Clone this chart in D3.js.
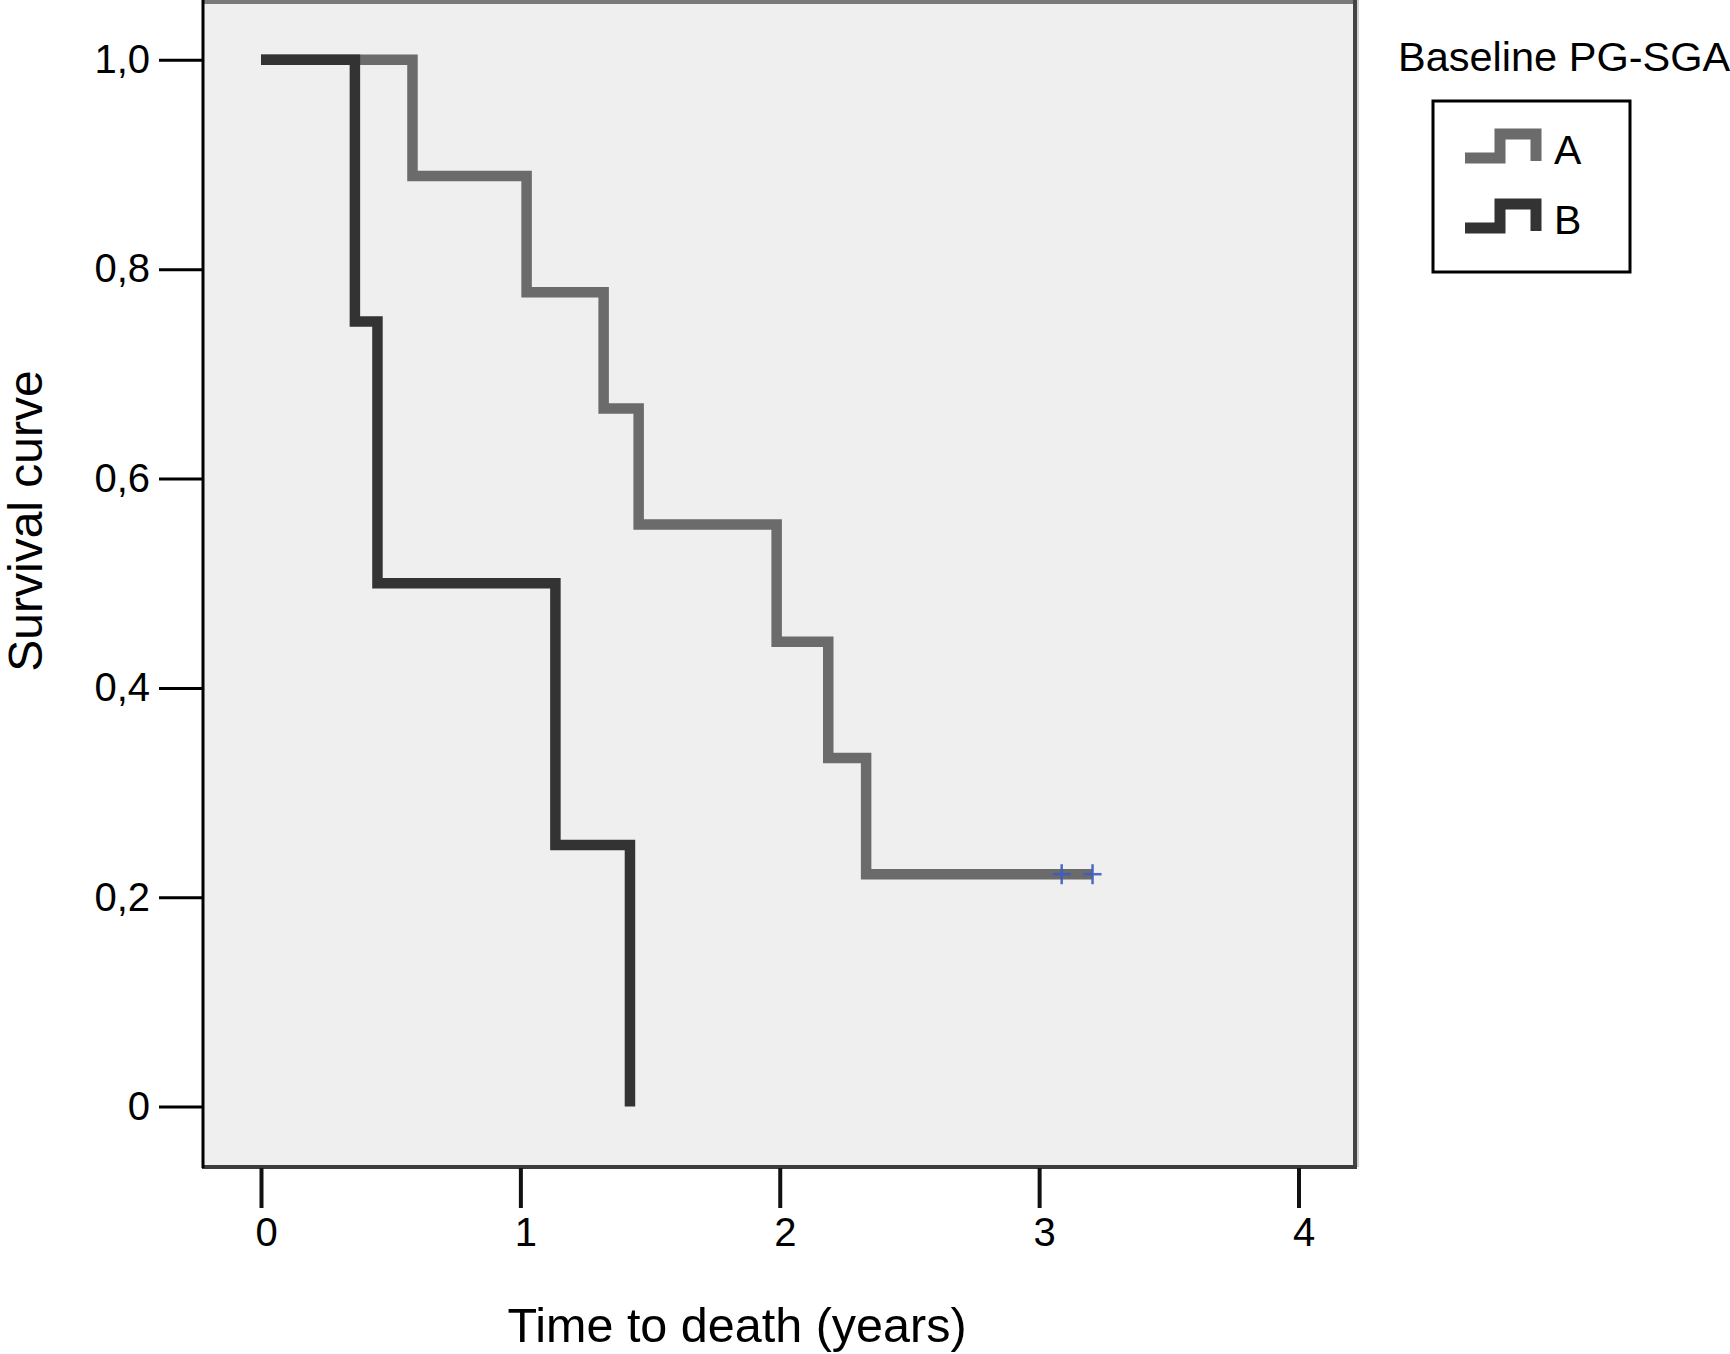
<!DOCTYPE html>
<html>
<head>
<meta charset="utf-8">
<script src="https://cdn.jsdelivr.net/npm/d3@7"></script>
<style>
  html, body { margin: 0; padding: 0; background: #ffffff; }
  svg { display: block; font-family: "Liberation Sans", Arial, Helvetica, sans-serif; }
</style>
</head>
<body>
<svg id="chart" width="1730" height="1354"></svg>
<script>
// ---- data ----
const groups = ["A", "B"];
const timesA = [0, 0.584, 1.024, 1.321, 1.456, 1.988, 2.187, 2.333, 3.206];
const survA  = [1, 0.889, 0.778, 0.667, 0.556, 0.444, 0.333, 0.222, 0.222];
const censorTimesA = [3.087, 3.206];
const censorSurvA  = [0.222, 0.222];
const timesB = [0, 0.362, 0.449, 1.135, 1.4225];
const survB  = [1, 0.75, 0.5, 0.25, 0];
const xTicks = [0, 1, 2, 3, 4];
const yTicks = [0, 0.2, 0.4, 0.6, 0.8, 1.0];
const yTickLabels = ["0", "0,2", "0,4", "0,6", "0,8", "1,0"];
const xTitle = "Time to death (years)";
const yTitle = "Survival curve";
const legendTitle = "Baseline PG-SGA";
const colors = { A: "#6b6b6b", B: "#333333" };

const svg = d3.select("#chart");

// plot frame
const frame = { left: 203, right: 1356, top: 2, bottom: 1167 };
const x = d3.scaleLinear().domain([0, 4]).range([261, 1298.5]);
const y = d3.scaleLinear().domain([0, 1]).range([1106.6, 59.8]);

svg.append("rect")
  .attr("x", frame.left).attr("y", frame.top)
  .attr("width", frame.right - frame.left).attr("height", frame.bottom - frame.top)
  .attr("fill", "#efefef");

// frame borders
svg.append("line").attr("x1", frame.left).attr("x2", frame.right).attr("y1", 2).attr("y2", 2)
  .attr("stroke", "#7a7a7a").attr("stroke-width", 4);
svg.append("line").attr("x1", frame.right).attr("x2", frame.right).attr("y1", 0).attr("y2", frame.bottom)
  .attr("stroke", "#d0d0d0").attr("stroke-width", 6);
svg.append("line").attr("x1", frame.right - 1).attr("x2", frame.right - 1).attr("y1", 0).attr("y2", frame.bottom)
  .attr("stroke", "#444").attr("stroke-width", 4);
svg.append("line").attr("x1", frame.left - 1).attr("x2", frame.right + 1).attr("y1", frame.bottom).attr("y2", frame.bottom)
  .attr("stroke", "#3c3c3c").attr("stroke-width", 4);
svg.append("line").attr("x1", frame.left).attr("x2", frame.left).attr("y1", 0).attr("y2", frame.bottom + 1)
  .attr("stroke", "#000").attr("stroke-width", 3);

// axes
const yAxis = d3.axisLeft(y).tickValues(yTicks)
  .tickFormat((d, i) => yTickLabels[i]).tickSize(43).tickPadding(9);
const gy = svg.append("g").attr("transform", `translate(${frame.left - 1},0)`).call(yAxis);
gy.select(".domain").remove();
gy.selectAll(".tick line").attr("stroke", "#000").attr("stroke-width", 3);
gy.selectAll(".tick text").attr("font-size", 40).attr("fill", "#000")
  .attr("font-family", "'Liberation Sans', Arial, Helvetica, sans-serif");

const xAxis = d3.axisBottom(x).tickValues(xTicks).tickFormat(d3.format("d")).tickSize(40).tickPadding(10);
const gx = svg.append("g").attr("transform", `translate(0,${frame.bottom + 1})`).call(xAxis);
gx.select(".domain").remove();
gx.selectAll(".tick line").attr("stroke", "#111").attr("stroke-width", 4);
gx.selectAll(".tick text").attr("font-size", 40).attr("fill", "#000").attr("dx", 5)
  .attr("font-family", "'Liberation Sans', Arial, Helvetica, sans-serif");

// axis titles
svg.append("text").attr("x", 737).attr("y", 1342).attr("text-anchor", "middle")
  .attr("font-size", 48.5).attr("fill", "#000").text(xTitle);
svg.append("text").attr("transform", "translate(42,521) rotate(-90)").attr("text-anchor", "middle")
  .attr("font-size", 48).attr("fill", "#000").text(yTitle);

// survival curves
const line = d3.line().x(d => x(d[0])).y(d => y(d[1])).curve(d3.curveStepAfter);
const dataA = timesA.map((t, i) => [t, survA[i]]);
const dataB = timesB.map((t, i) => [t, survB[i]]);

svg.append("path").datum(dataA).attr("d", line)
  .attr("fill", "none").attr("stroke", colors.A).attr("stroke-width", 10.5)
  .attr("stroke-linejoin", "miter").attr("stroke-linecap", "butt");
svg.append("path").datum(dataB).attr("d", line)
  .attr("fill", "none").attr("stroke", colors.B).attr("stroke-width", 10.5)
  .attr("stroke-linejoin", "miter").attr("stroke-linecap", "butt");

// censor marks
const censor = svg.append("g").attr("stroke", "#3d5cc2").attr("stroke-width", 2.5).attr("opacity", 0.9);
censorTimesA.forEach((t, i) => {
  const cx = x(t), cy = y(censorSurvA[i]);
  censor.append("line").attr("x1", cx).attr("x2", cx).attr("y1", cy - 10).attr("y2", cy + 10);
  censor.append("line").attr("x1", cx - 9).attr("x2", cx + 9).attr("y1", cy).attr("y2", cy);
});

// legend
svg.append("text").attr("x", 1398).attr("y", 71).attr("font-size", 41.5).attr("fill", "#000").text(legendTitle);
svg.append("rect").attr("x", 1433).attr("y", 101).attr("width", 197).attr("height", 171)
  .attr("fill", "#fff").attr("stroke", "#000").attr("stroke-width", 3);
const icon = d3.line();
groups.forEach((g, i) => {
  const oy = i * 70;
  svg.append("path")
    .attr("d", icon([[1465, 158 + oy], [1500, 158 + oy], [1500, 134 + oy], [1536, 134 + oy], [1536, 161 + oy]]))
    .attr("fill", "none").attr("stroke", colors[g]).attr("stroke-width", 11)
    .attr("stroke-linejoin", "miter");
  svg.append("text").attr("x", 1554).attr("y", 164 + oy).attr("font-size", 41).attr("fill", "#000").text(g);
});
</script>
</body>
</html>
